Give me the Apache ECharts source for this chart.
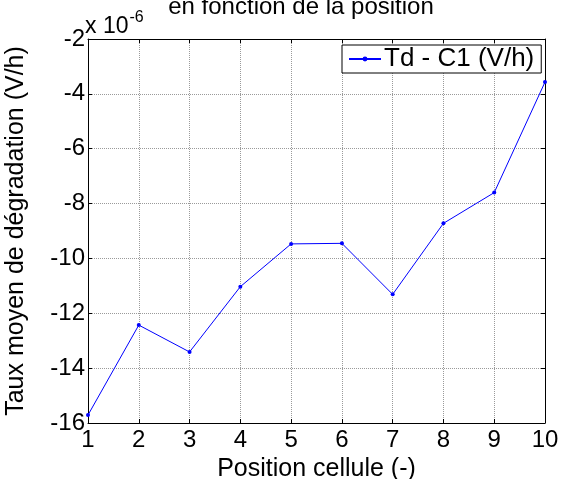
<!DOCTYPE html>
<html>
<head>
<meta charset="utf-8">
<script src="https://cdn.jsdelivr.net/npm/echarts@6/dist/echarts.min.js"></script>
<style>
  html, body { margin: 0; padding: 0; background: #fff; }
  #chart { width: 566px; height: 479px; }
</style>
</head>
<body>
<div id="chart"></div>
<script>
// position des cellules et taux moyen (x 10^-6 V/h)
const positions = [1, 2, 3, 4, 5, 6, 7, 8, 9, 10]
const tauxC1 = [-15.71, -12.43, -13.41, -11.03, -9.47, -9.45, -11.31, -8.72, -7.6, -3.57]
const seriesName = 'Td - C1 (V/h)'

const font = 'Liberation Sans, Arial, sans-serif'
const chart = echarts.init(document.getElementById('chart'))

const gridLine = { show: true, lineStyle: { color: '#9a9a9a', type: [1, 1], width: 1 } }
const boxLine = { show: true, onZero: false, lineStyle: { color: '#000', width: 1 } }
const inTick = { show: true, inside: true, length: 4, lineStyle: { color: '#000' } }

chart.setOption({
  animation: false,
  backgroundColor: '#fff',
  textStyle: { fontFamily: font },
  title: {
    text: 'en fonction de la position',
    left: 296,
    top: -10,
    textAlign: 'center',
    textStyle: { fontSize: 24, fontWeight: 'normal', color: '#000', fontFamily: font }
  },
  graphic: [{
    type: 'text',
    left: 85,
    top: 10,
    style: {
      text: '{a|x 10}{s|-6}',
      rich: {
        a: { fontSize: 23, fontFamily: font, fill: '#000', verticalAlign: 'bottom' },
        s: { fontSize: 16, fontFamily: font, fill: '#000', verticalAlign: 'top', padding: [0, 0, 12, 1] }
      }
    }
  }],
  legend: {
    data: [seriesName],
    left: 342,
    top: 45,
    itemWidth: 32,
    itemHeight: 6,
    itemGap: 4,
    padding: [1, 7, 1, 6],
    backgroundColor: '#fff',
    borderColor: '#000',
    borderWidth: 1,
    borderRadius: 0,
    textStyle: { fontSize: 26, color: '#000', fontFamily: font, padding: [0, 0, 0, -2] }
  },
  grid: { left: 88, right: 21, top: 39, bottom: 56, containLabel: false, outerBoundsMode: 'none' },
  xAxis: [{
    type: 'value',
    min: 1,
    max: 10,
    interval: 1,
    name: 'Position cellule (-)',
    nameLocation: 'middle',
    nameGap: 34,
    nameTextStyle: { fontSize: 25, color: '#000', fontFamily: font },
    axisLine: boxLine,
    axisTick: inTick,
    axisLabel: { fontSize: 24, color: '#000', margin: 5, fontFamily: font },
    splitLine: gridLine
  }, {
    type: 'value',
    position: 'top',
    min: 1,
    max: 10,
    interval: 1,
    axisLine: boxLine,
    axisTick: inTick,
    axisLabel: { show: false },
    splitLine: { show: false }
  }],
  yAxis: [{
    type: 'value',
    min: -16,
    max: -2,
    interval: 2,
    name: 'Taux moyen de dégradation (V/h)',
    nameLocation: 'middle',
    nameGap: 59,
    nameTextStyle: { fontSize: 25, color: '#000', fontFamily: font },
    axisLine: boxLine,
    axisTick: inTick,
    axisLabel: { fontSize: 24, color: '#000', margin: 3, fontFamily: font },
    splitLine: gridLine
  }, {
    type: 'value',
    position: 'right',
    min: -16,
    max: -2,
    interval: 2,
    axisLine: boxLine,
    axisTick: inTick,
    axisLabel: { show: false },
    splitLine: { show: false }
  }],
  series: [{
    name: seriesName,
    type: 'line',
    data: positions.map((p, i) => [p, tauxC1[i]]),
    symbol: 'circle',
    symbolSize: 4,
    showSymbol: true,
    clip: false,
    lineStyle: { color: '#0000ff', width: 1 },
    itemStyle: { color: '#0000ff' }
  }]
})
</script>
</body>
</html>
